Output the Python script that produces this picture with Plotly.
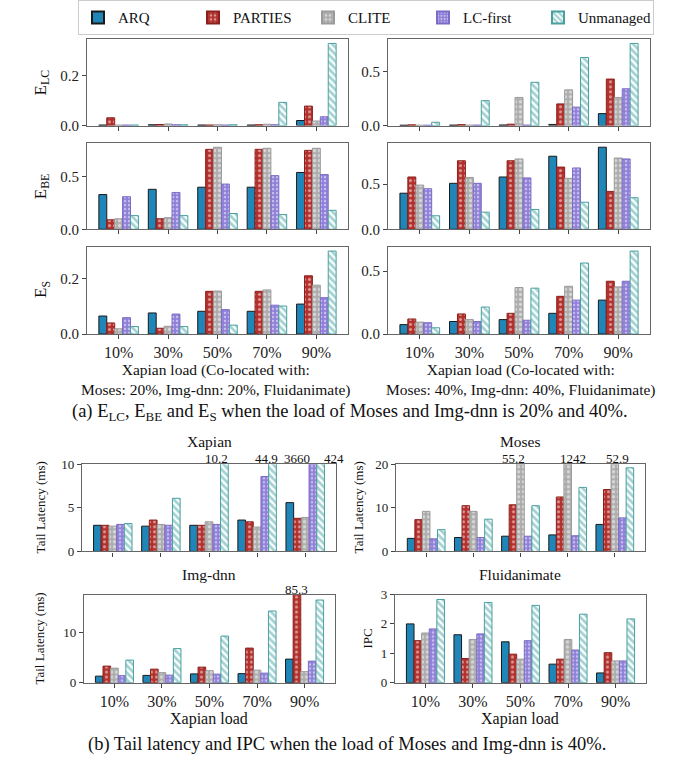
import plotly.graph_objects as go

W, H = 694, 768
FONT = "Times New Roman, Liberation Serif, Tinos, DejaVu Serif, serif"

loads = ["10%", "30%", "50%", "70%", "90%"]
methods = ["ARQ", "PARTIES", "CLITE", "LC-first", "Unmanaged"]

# ---- (a) top section: rows = ARQ, PARTIES, CLITE, LC-first, Unmanaged ----
elc_20 = [[0.002, 0.003, 0.002, 0.002, 0.02],
          [0.031, 0.004, 0.002, 0.003, 0.078],
          [0.002, 0.006, 0.003, 0.005, 0.018],
          [0.002, 0.003, 0.002, 0.003, 0.035],
          [0.002, 0.003, 0.003, 0.093, 0.33]]
elc_40 = [[0.003, 0.004, 0.005, 0.01, 0.11],
          [0.006, 0.008, 0.012, 0.2, 0.43],
          [0.003, 0.004, 0.26, 0.33, 0.26],
          [0.003, 0.004, 0.004, 0.17, 0.34],
          [0.03, 0.23, 0.4, 0.63, 0.76]]
ebe_20 = [[0.33, 0.38, 0.40, 0.40, 0.54],
          [0.09, 0.10, 0.76, 0.76, 0.75],
          [0.10, 0.11, 0.78, 0.77, 0.77],
          [0.31, 0.35, 0.43, 0.51, 0.52],
          [0.13, 0.13, 0.15, 0.14, 0.18]]
ebe_40 = [[0.40, 0.51, 0.58, 0.81, 0.91],
          [0.58, 0.76, 0.76, 0.69, 0.42],
          [0.49, 0.575, 0.78, 0.565, 0.79],
          [0.45, 0.51, 0.57, 0.68, 0.78],
          [0.15, 0.19, 0.22, 0.30, 0.35]]
es_20 = [[0.065, 0.076, 0.082, 0.082, 0.108],
         [0.04, 0.021, 0.154, 0.154, 0.21],
         [0.019, 0.028, 0.155, 0.159, 0.176],
         [0.059, 0.072, 0.088, 0.104, 0.131],
         [0.027, 0.027, 0.032, 0.101, 0.299]]
es_40 = [[0.075, 0.10, 0.115, 0.165, 0.27],
         [0.12, 0.16, 0.165, 0.30, 0.42],
         [0.095, 0.115, 0.37, 0.38, 0.375],
         [0.09, 0.10, 0.11, 0.27, 0.42],
         [0.05, 0.215, 0.365, 0.565, 0.66]]

# ---- (b) bottom section ----
xapian = [[3.0, 2.9, 3.0, 3.6, 5.6],
          [3.0, 3.6, 3.0, 3.4, 3.8],
          [2.9, 3.1, 3.4, 2.8, 3.9],
          [3.1, 3.0, 3.1, 8.6, 3660],
          [3.2, 6.1, 10.2, 44.9, 424]]
moses = [[3.0, 3.2, 3.5, 3.8, 6.2],
         [7.3, 10.5, 10.7, 12.5, 14.2],
         [9.2, 9.2, 55.2, 1242, 52.9],
         [2.9, 3.2, 3.5, 3.6, 7.7],
         [5.0, 7.4, 10.5, 14.7, 19.2]]
imgdnn = [[1.3, 1.45, 1.75, 1.8, 4.7],
          [3.3, 2.7, 3.1, 6.9, 85.3],
          [2.9, 2.0, 2.4, 2.5, 2.2],
          [1.4, 1.5, 1.7, 1.9, 4.3],
          [4.5, 6.8, 9.3, 14.3, 16.5]]
fluid_ipc = [[2.0, 1.63, 1.39, 0.63, 0.33],
             [1.43, 0.82, 0.97, 0.80, 1.02],
             [1.69, 1.47, 0.80, 1.47, 0.74],
             [1.83, 1.66, 1.43, 1.11, 0.74],
             [2.83, 2.73, 2.63, 2.33, 2.17]]

styles = {
    "ARQ": dict(color="#1f86b7", line="#1a1a1a", pat=None),
    "PARTIES": dict(color="#b3302c", line="#8c1f1b",
                    pat=dict(shape=".", fgcolor="white", bgcolor="#b3302c", size=5, solidity=0.3)),
    "CLITE": dict(color="#adadad", line="#9a9a9a",
                  pat=dict(shape=".", fgcolor="white", bgcolor="#adadad", size=5, solidity=0.35)),
    "LC-first": dict(color="#8f7fd8", line="#7a6bc4",
                     pat=dict(shape=".", fgcolor="white", bgcolor="#8f7fd8", size=4, solidity=0.3)),
    "Unmanaged": dict(color="#55abab", line="#4a9f9f",
                      pat=dict(shape="\\", fgcolor="#4aa6a6", bgcolor="white", size=5, solidity=0.55)),
}


def px(x):
    return x / W


def py(y):
    return 1 - y / H


XR = [-0.64, 4.64]
# panel: data, (x0,x1,y0,y1) in pixels, yrange, dtick, tickformat, show x labels, tickfont size
panels = [
    (elc_20, (87, 348, 32, 120), [0, 1.05 * 0.33], 0.2, ".1f", False, 15),
    (elc_40, (388, 650, 32, 120), [0, 1.05 * 0.76], 0.5, ".1f", False, 15),
    (ebe_20, (87, 348, 138, 226), [0, 1.05 * 0.78], 0.5, ".1f", False, 15),
    (ebe_40, (388, 650, 138, 226), [0, 1.05 * 0.91], 0.5, ".1f", False, 15),
    (es_20, (87, 348, 244, 333), [0, 1.05 * 0.299], 0.2, ".1f", True, 15),
    (es_40, (388, 650, 244, 333), [0, 1.05 * 0.66], 0.5, ".1f", True, 15),
    (xapian, (82, 336, 466, 555), [0, 10], 5, "d", False, 13),
    (moses, (396, 645, 466, 555), [0, 20], 10, "d", False, 13),
    (imgdnn, (84, 335, 599, 689), [0, 17.6], 10, "d", True, 13),
    (fluid_ipc, (395, 646, 599, 689), [0, 3], 1, "d", True, 13),
]

fig = go.Figure()
layout = {}
for i, (data, (x0, x1, y0, y1), yr, dt, tf, showx, tfs) in enumerate(panels, start=1):
    xa = "x" if i == 1 else f"x{i}"
    ya = "y" if i == 1 else f"y{i}"
    for k, m in enumerate(methods):
        st = styles[m]
        marker = dict(color=st["color"], line=dict(color=st["line"], width=1))
        if st["pat"] is not None:
            marker["pattern"] = st["pat"]
        fig.add_trace(go.Bar(x=loads, y=data[k], name=m, marker=marker,
                             xaxis=xa, yaxis=ya, legendgroup=m,
                             showlegend=(i == 1)))
    layout["xaxis" if i == 1 else f"xaxis{i}"] = dict(
        domain=[px(x0), px(x1)], anchor=ya, range=XR, type="category",
        showline=True, mirror=True, linecolor="#666666", linewidth=1.2,
        ticks="outside", ticklen=4, tickcolor="#444444",
        showticklabels=showx, showgrid=False, zeroline=False,
        tickfont=dict(family=FONT, size=16, color="#222"))
    layout["yaxis" if i == 1 else f"yaxis{i}"] = dict(
        domain=[py(y1), py(y0)], anchor=xa, range=yr, dtick=dt, tick0=0,
        tickformat=tf, showline=True, mirror=True, linecolor="#666666",
        linewidth=1.2, ticks="outside", ticklen=4, tickcolor="#444444",
        showgrid=False, zeroline=False,
        tickfont=dict(family=FONT, size=tfs, color="#222"))

fig.update_layout(**layout)

ann = []


def txt(x, y, s, size, angle=0, color="#111"):
    ann.append(dict(x=px(x), y=py(y), xref="paper", yref="paper", text=s,
                    showarrow=False, textangle=angle, xanchor="center",
                    yanchor="middle", font=dict(family=FONT, size=size, color=color)))


# y titles of section (a)
txt(42, 76, "E<sub>LC</sub>", 17, -90)
txt(42, 182, "E<sub>BE</sub>", 17, -90)
txt(42, 288, "E<sub>S</sub>", 17, -90)
# x titles of section (a)
txt(216, 380, "Xapian load (Co-located with:<br>Moses: 20%, Img-dnn: 20%, Fluidanimate)", 15.5)
txt(521, 380, "Xapian load (Co-located with:<br>Moses: 40%, Img-dnn: 40%, Fluidanimate)", 15.5)
txt(350, 413, "(a) E<sub>LC</sub>, E<sub>BE</sub> and E<sub>S</sub> when the load of Moses and Img-dnn is 20% and 40%.", 18.5)

# section (b)
txt(209, 443, "Xapian", 15.5)
txt(520, 443, "Moses", 15.5)
txt(209, 579, "Img-dnn", 15.5)
txt(520, 579, "Fluidanimate", 15.5)
txt(40, 510, "Tail Latency (ms)", 13, -90)
txt(358, 510, "Tail Latency (ms)", 13, -90)
txt(40, 644, "Tail Latency (ms)", 13, -90)
txt(368, 644, "IPC", 13, -90)
txt(209, 726, "Xapian load", 16)
txt(520, 726, "Xapian load", 16)
txt(347, 752, "(b) Tail latency and IPC when the load of Moses and Img-dnn is 40%.", 18.5)

# value labels for clipped bars: (axis number, data, series index, load index, xshift)
W_BAR = 0.16
clipped = [(7, xapian, 4, 2, -8), (7, xapian, 4, 3, -6), (7, xapian, 3, 4, -16), (7, xapian, 4, 4, 13),
           (8, moses, 2, 2, -7), (8, moses, 2, 3, 5), (8, moses, 2, 4, 3),
           (9, imgdnn, 1, 4, 0)]
for axn, data, k, j, xs in clipped:
    yr = panels[axn - 1][2]
    v = data[k][j]
    ann.append(dict(x=j + (k - 2) * W_BAR, y=yr[1], xref=f"x{axn}", yref=f"y{axn}",
                    text=f"{v:g}", showarrow=False, xanchor="center", yanchor="bottom",
                    xshift=xs, yshift=-4, font=dict(family=FONT, size=13, color="#111")))

fig.update_layout(
    width=W, height=H, margin=dict(l=0, r=0, t=0, b=0),
    paper_bgcolor="white", plot_bgcolor="white",
    barmode="group", bargap=0.2, bargroupgap=0,
    annotations=ann,
    font=dict(family=FONT, color="#111"),
    legend=dict(orientation="h", x=px(366), y=py(-8), xanchor="center", yanchor="top",
                bordercolor="#cccccc", borderwidth=1, bgcolor="rgba(255,255,255,0)",
                font=dict(family=FONT, size=15, color="#111"),
                itemwidth=30, tracegroupgap=0, itemsizing="constant",
                entrywidth=70, entrywidthmode="pixels"),
)

fig.write_html("out.html")
